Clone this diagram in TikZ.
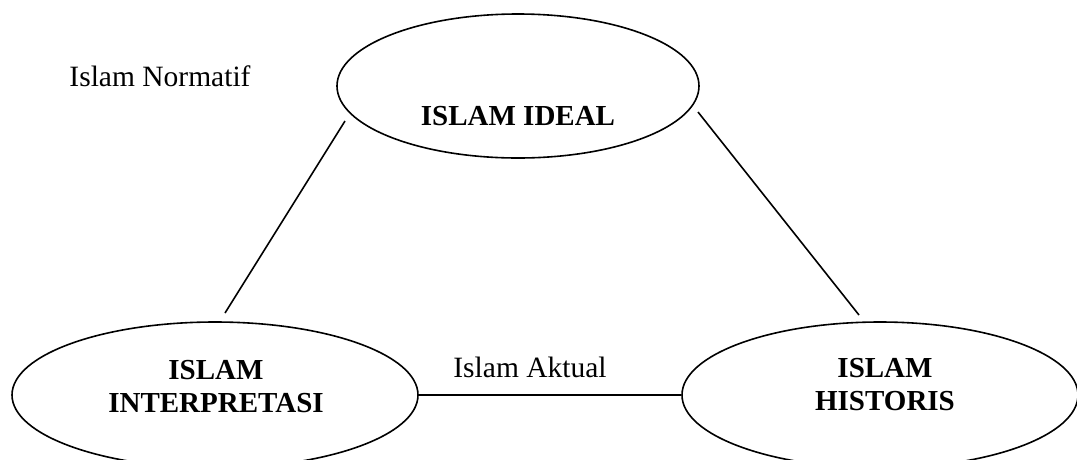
\documentclass[tikz,border=0pt]{standalone}
\usepackage{fontspec}
\setmainfont{Liberation Serif}
\usetikzlibrary{shapes.geometric, positioning}

\begin{document}
\begin{tikzpicture}[
        x=1pt, y=-1pt,
        oval_box/.style={
            ellipse,
            draw=black,
            line width=1.6pt,
            inner sep=0pt
        },
        title_text/.style={
            anchor=base,
            align=center,
            inner sep=0pt,
            font=\fontsize{29}{33}\selectfont\bfseries
        },
        label_text/.style={
            anchor=base,
            inner sep=0pt,
            font=\fontsize{29.5}{33}\selectfont
        },
        link_line/.style={
            draw=black,
            line width=1.6pt
        }
    ]

    \clip (0,0) rectangle (1077,459);

    % Ovals
    \node[oval_box, minimum width=362pt, minimum height=144pt] (ideal) at (518,86) {};
    \node[oval_box, minimum width=406pt, minimum height=146pt] (interp) at (215,395) {};
    \node[oval_box, minimum width=396pt, minimum height=146pt] (histo) at (880,395) {};

    % Oval titles (base = last line)
    \node[title_text] (ideal_t) at (518,125) {ISLAM IDEAL};
    \node[title_text] (interp_t) at (216,412) {ISLAM\\INTERPRETASI};
    \node[title_text] (histo_t) at (885,410) {ISLAM\\HISTORIS};

    % Side labels
    \node[label_text] (normatif) at (160,86) {Islam Normatif};
    \node[label_text] (aktual) at (530,377) {Islam Aktual};

    % Connecting lines
    \coordinate (left_top) at (345,121);
    \coordinate (left_bot) at (225,313);
    \coordinate (right_top) at (698,112);
    \coordinate (right_bot) at (859,315);

    \draw[link_line] (left_top) -- (left_bot);
    \draw[link_line] (right_top) -- (right_bot);
    \draw[link_line] (interp.east) -- (histo.west);

\end{tikzpicture}
\end{document}
